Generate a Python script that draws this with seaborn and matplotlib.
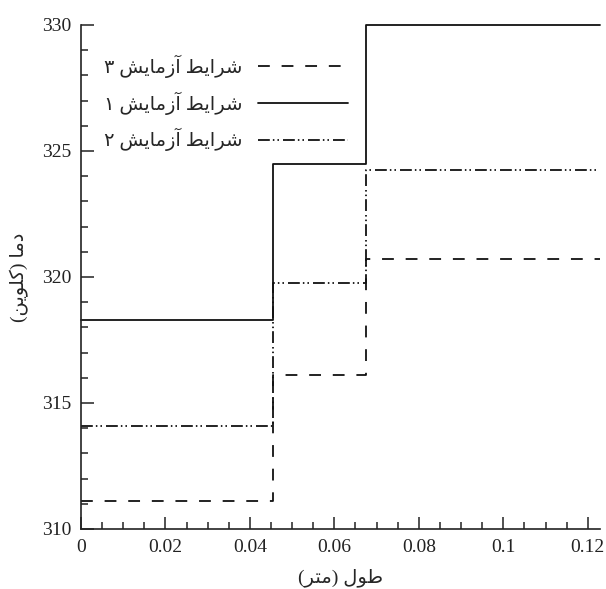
import numpy as np
import pandas as pd
import matplotlib
matplotlib.use("Agg")
import matplotlib.pyplot as plt
from matplotlib.ticker import MultipleLocator, FuncFormatter
import seaborn as sns

# step edges along the length (m) and temperature levels (K)
edges = [0.0, 0.0455, 0.0674, 0.1229]
temps_test1 = [318.3, 324.5, 330.0, 330.0]
temps_test2 = [314.1, 319.75, 324.25, 324.25]
temps_test3 = [311.1, 316.1, 320.7, 320.7]

series_names = ["شرایط آزمایش ۳", "شرایط آزمایش ۱", "شرایط آزمایش ۲"]
x_label = "طول (متر)"
y_label = "دما (کلوین)"

x_ticks = [0, 0.02, 0.04, 0.06, 0.08, 0.1, 0.12]
y_ticks = [310, 315, 320, 325, 330]

# Arabic presentation forms: isolated, final, initial, medial
FORMS = {
    "ا": ("\uFE8D", "\uFE8E", None, None),
    "آ": ("\uFE81", "\uFE82", None, None),
    "د": ("\uFEA9", "\uFEAA", None, None),
    "ر": ("\uFEAD", "\uFEAE", None, None),
    "ز": ("\uFEAF", "\uFEB0", None, None),
    "و": ("\uFEED", "\uFEEE", None, None),
    "ت": ("\uFE95", "\uFE96", "\uFE97", "\uFE98"),
    "ش": ("\uFEB5", "\uFEB6", "\uFEB7", "\uFEB8"),
    "ط": ("\uFEC1", "\uFEC2", "\uFEC3", "\uFEC4"),
    "ل": ("\uFEDD", "\uFEDE", "\uFEDF", "\uFEE0"),
    "م": ("\uFEE1", "\uFEE2", "\uFEE3", "\uFEE4"),
    "ن": ("\uFEE5", "\uFEE6", "\uFEE7", "\uFEE8"),
    "ک": ("\uFB8E", "\uFB8F", "\uFB90", "\uFB91"),
    "ی": ("\uFBFC", "\uFBFD", "\uFBFE", "\uFBFF"),
}


def rtl(text):
    """Shape Persian letters and put them in visual (left-to-right) order."""
    out = []
    for i, ch in enumerate(text):
        if ch not in FORMS:
            out.append(ch)
            continue
        prev = text[i - 1] if i > 0 else None
        nxt = text[i + 1] if i + 1 < len(text) else None
        iso, fin, ini, med = FORMS[ch]
        join_prev = prev in FORMS and FORMS[prev][2] is not None
        join_next = nxt in FORMS and ini is not None
        if join_prev and join_next:
            out.append(med)
        elif join_prev:
            out.append(fin)
        elif join_next:
            out.append(ini)
        else:
            out.append(iso)
    visual = "".join(out)[::-1]
    return visual.translate(str.maketrans("()", ")("))


sns.set_theme(style="ticks")
plt.rcParams["font.family"] = ["Liberation Serif", "DejaVu Sans"]
plt.rcParams["lines.scale_dashes"] = False

df = pd.DataFrame({
    "x": edges * 3,
    "y": temps_test3 + temps_test1 + temps_test2,
    "series": [series_names[0]] * 4 + [series_names[1]] * 4 + [series_names[2]] * 4,
})

styles = {
    series_names[0]: (0, (8.5, 8.5)),
    series_names[1]: "-",
    series_names[2]: (0, (8.5, 2.2, 1.1, 2.2, 1.1, 2.9)),
}

fig = plt.figure(figsize=(6.06, 5.89), dpi=100)
ax = fig.add_axes([81 / 606, 1 - 529 / 589, (600 - 81) / 606, (529 - 25) / 589])

for name in series_names:
    sub = df[df["series"] == name]
    sns.lineplot(data=sub, x="x", y="y", ax=ax, color="#111111", linewidth=1.3,
                 linestyle=styles[name], drawstyle="steps-post",
                 estimator=None, sort=False, label=rtl(name), clip_on=False)

ax.set_xlim(0, edges[-1])
ax.set_ylim(310, 330)
ax.set_xticks(x_ticks)
ax.set_yticks(y_ticks)
ax.xaxis.set_major_formatter(FuncFormatter(lambda v, _: f"{v:g}"))
ax.xaxis.set_minor_locator(MultipleLocator(0.005))
ax.yaxis.set_minor_locator(MultipleLocator(1))
ax.tick_params(which="major", direction="in", length=9, width=1.1,
               labelsize=14, pad=7, colors="#222222")
ax.tick_params(which="minor", direction="in", length=5, width=1.1, colors="#222222")

for side in ["top", "right"]:
    ax.spines[side].set_visible(False)
for side in ["left", "bottom"]:
    ax.spines[side].set_linewidth(1.2)
    ax.spines[side].set_color("#222222")

ax.set_xlabel(rtl(x_label), fontsize=14, labelpad=9)
ax.set_ylabel(rtl(y_label), fontsize=14, labelpad=9)

leg = ax.legend(loc="center", bbox_to_anchor=(226 / 606, 1 - 103 / 589),
                bbox_transform=fig.transFigure, frameon=False, markerfirst=False,
                fontsize=14, handlelength=4.6, labelspacing=0.7, handletextpad=0.8)

fig.savefig("out.png", dpi=100)
plt.close(fig)
